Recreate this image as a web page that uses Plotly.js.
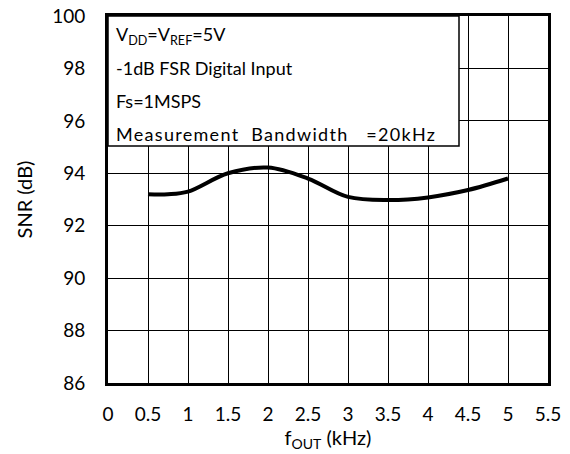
<!DOCTYPE html>
<html><head><meta charset="utf-8">
<script src="https://cdn.plot.ly/plotly-3.0.1.min.js"></script>
<style>html,body{margin:0;padding:0;background:#fff}</style>
</head><body>
<div id="chart" style="width:570px;height:454px"></div>
<script>
const freqKHz = [0.5, 0.75, 1.0, 1.5, 2.0, 2.5, 3.0, 3.5, 4.0, 4.5, 5.0];
const snrDb   = [93.2, 93.2, 93.3, 94.0, 94.22, 93.8, 93.1, 92.98, 93.08, 93.36, 93.8];
const noteLines = ["V<sub>DD</sub>=V<sub>REF</sub>=5V", "-1dB FSR Digital Input", "Fs=1MSPS",
  "<span style=\"letter-spacing:1.3px\">Measurement\u00a0\u00a0Bandwidth\u00a0\u00a0\u00a0=20kHz</span>"];
const xTicks = [0,0.5,1,1.5,2,2.5,3,3.5,4,4.5,5,5.5];
const yTicks = [86,88,90,92,94,96,98,100];

const fam = "Lato, 'Open Sans', sans-serif";
const noteFont = {family: fam, size: 18, color: "#000"};
const tickFont = {family: fam, size: 19, color: "#000"};
const titleFont = {family: fam, size: 20, color: "#000"};
const annotations = noteLines.map((t, i) => ({
  xref: "paper", yref: "paper", x: 0.013, y: 1 - (19 + i*33)/367,
  xanchor: "left", yanchor: "middle", text: t, showarrow: false, font: noteFont
}));

Plotly.newPlot("chart", [{
  x: freqKHz, y: snrDb, mode: "lines", type: "scatter",
  line: {color: "#000", width: 4, shape: "spline", smoothing: 1.0}
}], {
  width: 570, height: 454,
  margin: {l: 108, r: 22, t: 16, b: 71},
  paper_bgcolor: "#fff", plot_bgcolor: "#fff",
  showlegend: false,
  font: tickFont,
  xaxis: {range: [0, 5.5], tickvals: xTicks, ticktext: xTicks.map(String),
    showgrid: true, gridcolor: "#000", gridwidth: 1, zeroline: false,
    showline: true, linecolor: "#000", linewidth: 3, mirror: true, ticks: "",
    ticklabelstandoff: 12,
    title: {text: "f<sub>OUT</sub> (kHz)", font: titleFont, standoff: 5}, tickfont: tickFont},
  yaxis: {range: [86, 100], tickvals: yTicks, ticktext: yTicks.map(String),
    showgrid: true, gridcolor: "#000", gridwidth: 1, zeroline: false,
    showline: true, linecolor: "#000", linewidth: 3, mirror: true, ticks: "",
    ticklabelstandoff: 16,
    title: {text: "SNR (dB)", font: titleFont, standoff: 15}, tickfont: tickFont},
  shapes: [{type: "rect", xref: "paper", yref: "paper", x0: 0, x1: 351/440, y0: 1, y1: 1 - 130/367,
    fillcolor: "#fff", line: {color: "#000", width: 1.5}, layer: "above"}],
  annotations: annotations
}, {displayModeBar: false, staticPlot: true});
</script>
</body></html>
